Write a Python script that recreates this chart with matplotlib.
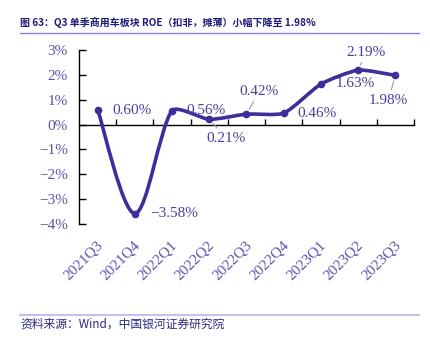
import matplotlib
matplotlib.use("Agg")
import matplotlib.pyplot as plt
import numpy as np
from matplotlib.path import Path
from matplotlib.patches import PathPatch
from matplotlib.transforms import ScaledTranslation

# data
quarters = ["2021Q3", "2021Q4", "2022Q1", "2022Q2", "2022Q3",
            "2022Q4", "2023Q1", "2023Q2", "2023Q3"]
roe = [0.60, -3.58, 0.56, 0.21, 0.42, 0.46, 1.63, 2.19, 1.98]
y_ticks = [-4, -3, -2, -1, 0, 1, 2, 3]

title = "图 63：Q3 单季商用车板块 ROE（扣非，摊薄）小幅下降至 1.98%"
source = "资料来源：Wind，中国银河证券研究院"

LINE = "#3d2e9b"
LABEL = "#4a3f9e"
TICK = "#5b52ae"
SERIF = ["Liberation Serif", "Noto Sans CJK SC"]
CJK = ["Noto Sans CJK SC", "Liberation Serif"]

# label offsets from each point (pixels: right, down) and leader flag
offsets = [(34, 1), (39, 0), (34, 0), (17, 19), (13, -23),
           (33, 0), (34, -1), (8, -18), (-7, 25)]
leader = [False, False, False, True, True, False, False, True, True]

# pixels per x unit / per y unit, used to keep the smoothing in screen space
PX_X, PX_Y = 37.2, 24.7


def smooth_path(x, y, clamp=0.2):
    """Catmull-Rom style bezier with arms clamped to a share of the segment,
    roughly what Excel's smoothed line does."""
    n = len(x)
    px = np.asarray(x, float) * PX_X
    py = np.asarray(y, float) * PX_Y
    verts = [(x[0], y[0])]
    codes = [Path.MOVETO]

    def arm(dx, dy, seg):
        d = np.hypot(dx, dy)
        lim = clamp * seg
        if d > lim and d > 0:
            dx, dy = dx * lim / d, dy * lim / d
        return dx, dy

    for i in range(n - 1):
        a = i - 1 if i > 0 else i
        d = i + 2 if i + 2 < n else i + 1
        seg = np.hypot(px[i + 1] - px[i], py[i + 1] - py[i])
        ax1, ay1 = arm((px[i + 1] - px[a]) / 6, (py[i + 1] - py[a]) / 6, seg)
        ax2, ay2 = arm((px[d] - px[i]) / 6, (py[d] - py[i]) / 6, seg)
        c1 = ((px[i] + ax1) / PX_X, (py[i] + ay1) / PX_Y)
        c2 = ((px[i + 1] - ax2) / PX_X, (py[i + 1] - ay2) / PX_Y)
        verts += [c1, c2, (x[i + 1], y[i + 1])]
        codes += [Path.CURVE4] * 3
    return Path(verts, codes)


fig = plt.figure(figsize=(4.31, 3.39), dpi=100)
ax = fig.add_axes([79 / 431, 1 - 224 / 339, 335 / 431, 174 / 339])

xs = np.arange(len(quarters))
ax.add_patch(PathPatch(smooth_path(xs, roe), fill=False, edgecolor=LINE,
                       lw=2.6, capstyle="round", joinstyle="round", zorder=3))
ax.plot(xs, roe, "o", color=LINE, ms=4.5, zorder=4)

ax.set_xlim(-0.5, len(quarters) - 0.5)
ax.set_ylim(-4, 3)

# zero axis with category boundary ticks
for s in ["top", "right"]:
    ax.spines[s].set_visible(False)
ax.spines["bottom"].set_position(("data", 0))
ax.spines["bottom"].set_linewidth(1.0)
ax.spines["left"].set_linewidth(1.0)
ax.set_xticks(np.arange(0.5, len(quarters), 1))
ax.tick_params(axis="x", direction="in", length=4, width=1, labelbottom=False)

ax.set_yticks(y_ticks)
ax.set_yticklabels([f"{v}%".replace("-", "\u2212") for v in y_ticks],
                   family=SERIF, fontsize=11, color=TICK)
ax.tick_params(axis="y", direction="in", length=5, width=1, pad=8)

sec = ax.secondary_xaxis("bottom")
sec.spines["bottom"].set_visible(False)
sec.set_xticks(xs)
sec.set_xticklabels(quarters, rotation=45, ha="right", va="center",
                    rotation_mode="anchor", family=SERIF, fontsize=11, color=TICK)
sec.tick_params(length=0, pad=14)
shift = ScaledTranslation(3 / 100, 0, fig.dpi_scale_trans)
for lab in sec.get_xticklabels():
    lab.set_transform(lab.get_transform() + shift)

# data labels
for i, v in enumerate(roe):
    dx, dy = offsets[i]
    props = None
    if leader[i]:
        props = dict(arrowstyle="-", color="#9a9a9a", lw=0.8, shrinkA=1, shrinkB=4)
    ax.annotate(f"{v:.2f}%".replace("-", "\u2212"), (i, v),
                xytext=(dx * 0.72, -dy * 0.72), textcoords="offset points",
                ha="center", va="center", family=SERIF, fontsize=11,
                color=LABEL, arrowprops=props, zorder=5)

# title, rules and source
fig.text(20 / 431, 1 - 23 / 339, title, family=CJK, fontsize=7.2,
         fontweight="bold", color="#1e1a78", va="center")
fig.add_artist(plt.Line2D([20 / 431, 419 / 431], [1 - 33 / 339] * 2,
                          color="#8a80d0", lw=1.0))
fig.add_artist(plt.Line2D([20 / 431, 419 / 431], [1 - 315 / 339] * 2,
                          color="#c8c0e8", lw=1.5))
fig.text(20 / 431, 1 - 324 / 339, source, family=CJK, fontsize=8.5,
         color="#2a2a80", va="center")

fig.savefig("out.png", dpi=100)
